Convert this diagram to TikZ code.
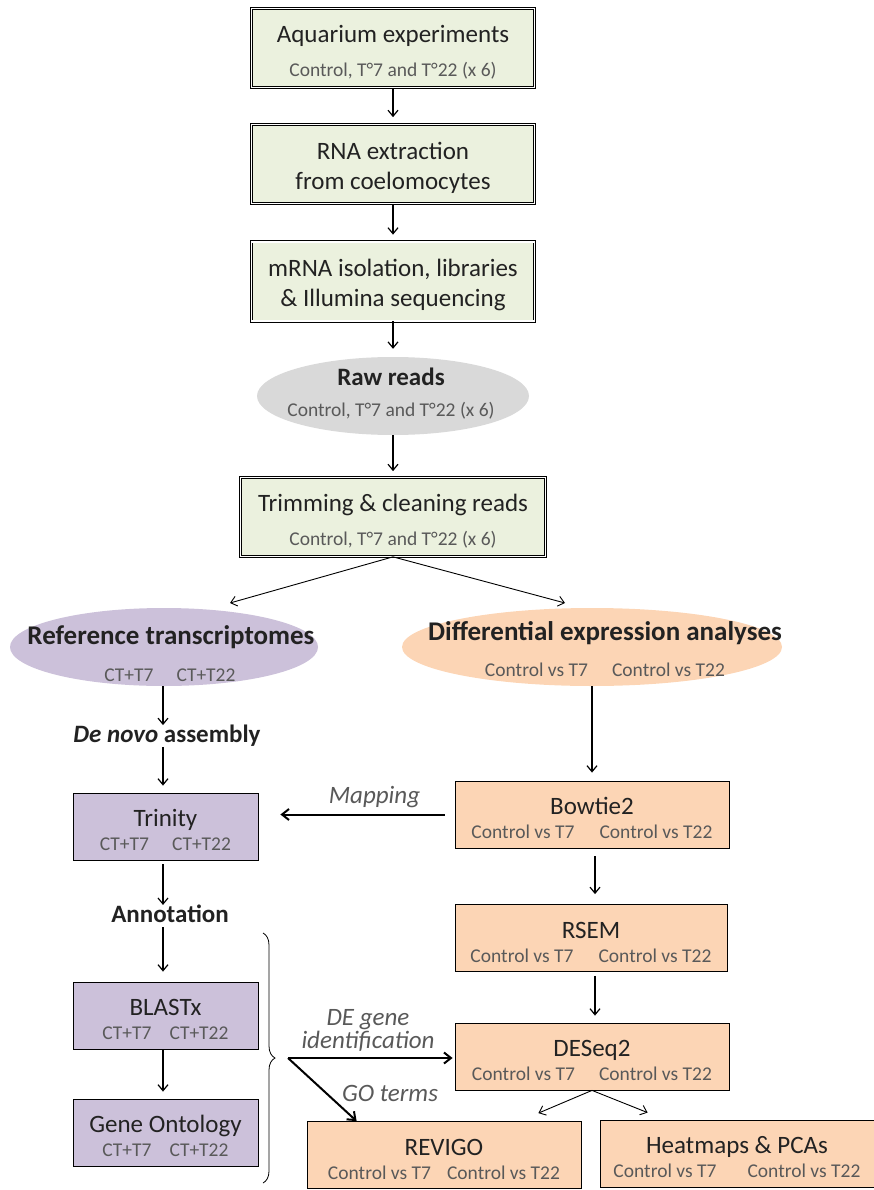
\documentclass[tikz,border=0pt]{standalone}
\usepackage{fontspec}
\setmainfont{Carlito}
\usetikzlibrary{arrows.meta,shapes.geometric,decorations.pathreplacing}

\definecolor{stagegreen}{HTML}{EBF1DE}
\definecolor{assemblypurple}{HTML}{CCC1DA}
\definecolor{expressionpeach}{HTML}{FCD5B5}
\definecolor{readsgray}{HTML}{D9D9D9}
\definecolor{textdark}{HTML}{222222}
\definecolor{textgray}{HTML}{595959}

\newcommand{\titlesize}{\fontsize{25}{30}\selectfont}
\newcommand{\headsize}{\fontsize{27}{32}\selectfont}
\newcommand{\subsize}{\fontsize{19.5}{24}\selectfont}
% two sample groups side by side, in gray
\newcommand{\groups}[3]{{\subsize\color{textgray}#1\hspace{#3}#2}}
% pushes box text a little lower
\newcommand{\dropstrut}{\rule{0pt}{25pt}}

\tikzset{
  arr/.style={-{Straight Barb[length=6pt,width=10pt]}, line width=1.2pt},
  bigarr/.style={-{Straight Barb[length=7pt,width=11pt]}, line width=2pt},
  stage/.style={draw, double=white, double distance=1.6pt, line width=0.7pt,
    fill=stagegreen, minimum width=283pt, minimum height=79pt, inner sep=0pt,
    align=center, font=\titlesize, text=textdark},
  tool/.style={draw, line width=0.8pt, minimum height=67pt, inner sep=0pt,
    align=center, font=\titlesize, text=textdark},
  asmbox/.style={tool, fill=assemblypurple, minimum width=185pt},
  debox/.style={tool, fill=expressionpeach, minimum width=274pt},
  blob/.style={ellipse, inner sep=0pt, minimum height=78pt},
  headtxt/.style={font=\headsize\bfseries, text=textdark, inner sep=0pt},
  steptxt/.style={font=\titlesize\bfseries, text=textdark, inner sep=0pt},
  subtxt/.style={font=\subsize, text=textgray, inner sep=0pt},
  edgetxt/.style={font=\titlesize\itshape, text=textgray, inner sep=0pt, align=center},
}

\begin{document}
\begin{tikzpicture}[x=1pt, y=-1pt]
\useasboundingbox (0,0) rectangle (874,1190);

% sample preparation and sequencing
\node[stage] (aqua) at (393,48) {\dropstrut Aquarium experiments\\[4pt]\groups{Control, T°7 and T°22 (x 6)}{}{0pt}};
\node[stage] (rna) at (393,164) {\dropstrut RNA extraction\\from coelomocytes};
\node[stage] (mrna) at (393,281.5) {\dropstrut mRNA isolation, libraries\\\& Illumina sequencing};

\node[blob, fill=readsgray, minimum width=272pt] (raw) at (393,396) {};
\node[steptxt] (rawt) at (391,377) {Raw reads};
\node[subtxt] (raws) at (391,411) {Control, T°7 and T°22 (x 6)};

\node[stage, minimum width=305pt] (trim) at (393,517) {\dropstrut Trimming \& cleaning reads\\[4pt]\groups{Control, T°7 and T°22 (x 6)}{}{0pt}};

\draw[arr, shorten >=7pt] (aqua) -- (rna);
\draw[arr, shorten >=7pt] (rna) -- (mrna);
\draw[arr, shorten >=8pt] (mrna) -- (raw);
\draw[arr, shorten >=6pt] (raw) -- (trim);

% the two branches
\node[blob, fill=assemblypurple, minimum width=308pt] (ref) at (164,647) {};
\node[headtxt] (reft) at (171,637) {Reference transcriptomes};
\node[subtxt] (refs) at (170,675) {CT+T7\hspace{23pt}CT+T22};

\node[blob, fill=expressionpeach, minimum width=380pt] (diff) at (592,647) {};
\node[headtxt] (difft) at (605,633) {Differential expression analyses};
\node[subtxt] (diffs) at (605,670) {Control vs T7\hspace{24pt}Control vs T22};

\coordinate (refin) at (230,603);
\coordinate (diffin) at (565,603);
\draw[arr, line width=0.9pt] (trim.south) -- (refin);
\draw[arr, line width=0.9pt] (trim.south) -- (diffin);

% assembly and annotation (left)
\node[steptxt] (denovo) at (167,736) {\textit{De novo} assembly};
\node[asmbox] (trinity) at (165.5,826.5) {\dropstrut Trinity\\[-6pt]\groups{CT+T7}{CT+T22}{23pt}};
\node[steptxt] (annot) at (170,914) {Annotation};
\node[asmbox] (blastx) at (165.5,1015.5) {\dropstrut BLASTx\\[-6pt]\groups{CT+T7}{CT+T22}{18pt}};
\node[asmbox] (geneont) at (165.5,1132.5) {\dropstrut Gene Ontology\\[-6pt]\groups{CT+T7}{CT+T22}{18pt}};

\draw[arr] (ref.south -| 163,0) -- (163,0 |- denovo.north);
\draw[arr, shorten >=7pt] (denovo.south -| 163,0) -- (163,0 |- trinity.north);
\draw[arr, shorten <=4pt] (trinity.south -| 163,0) -- (163,0 |- annot.north);
\draw[arr, shorten <=4pt, shorten >=10pt] (annot.south -| 163,0) -- (163,0 |- blastx.north);
\draw[arr, shorten >=7pt] (blastx.south -| 163,0) -- (163,0 |- geneont.north);

% expression pipeline (right)
\node[debox] (bowtie) at (592,814.5) {\dropstrut Bowtie2\\[-6pt]\groups{Control vs T7}{Control vs T22}{25pt}};
\node[debox, minimum width=272pt] (rsem) at (591,938) {\dropstrut RSEM\\[-6pt]\groups{Control vs T7}{Control vs T22}{25pt}};
\node[debox] (deseq) at (592,1056.5) {\dropstrut DESeq2\\[-6pt]\groups{Control vs T7}{Control vs T22}{24pt}};
\node[debox] (revigo) at (444,1155) {\dropstrut REVIGO\\[-6pt]\groups{Control vs T7}{Control vs T22}{16pt}};
\node[debox] (heat) at (737,1153.5) {\dropstrut Heatmaps \& PCAs\\[-6pt]\groups{Control vs T7}{Control vs T22}{31pt}};

\draw[arr, shorten >=8pt] (diff.south) -- (diff.south |- bowtie.north);
\draw[arr, shorten <=8pt, shorten >=10pt] (bowtie.south -| 595,0) -- (595,0 |- rsem.north);
\draw[arr, shorten <=4pt, shorten >=7pt] (rsem.south -| 595,0) -- (595,0 |- deseq.north);
\draw[arr, line width=0.9pt] (deseq.south) -- ([xshift=-43pt, yshift=8pt]revigo.north east);
\draw[arr, line width=0.9pt] (deseq.south) -- ([xshift=48pt, yshift=7pt]heat.north west);

% mapping reads back onto the assembly
\draw[bigarr, shorten <=10pt, shorten >=22pt] (bowtie.west) -- (bowtie.west -| trinity.east)
  node[edgetxt, midway, above=6pt, xshift=18pt] (maplab) {Mapping};

% annotation feeds the DE results
\draw[line width=0.8pt, decorate, decoration={brace, amplitude=12pt}] (263,933) -- (263,1183);
\coordinate (split) at (288,1058);
\draw[bigarr, shorten >=2pt] (split) -- (split -| deseq.west);
\draw[bigarr] (split) -- ([xshift=50pt]revigo.north west);
\node[edgetxt] (delab) at (368,1030) {DE gene\\[-7pt]identification};
\node[edgetxt] (golab) at (390,1093) {GO terms};
\end{tikzpicture}
\end{document}
